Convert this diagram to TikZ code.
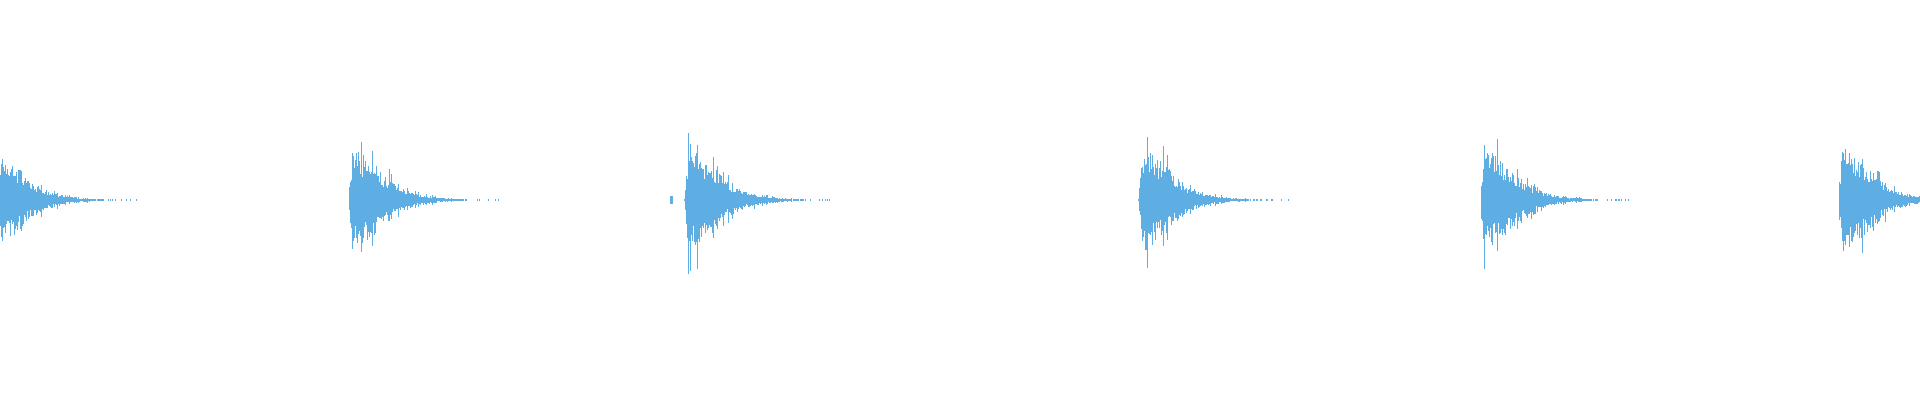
\documentclass[tikz,border=0pt]{standalone}
\tikzset{wave/.style={fill=wavecol}}
\definecolor{wavecol}{HTML}{5FAEE3}
% one decaying burst: start x, seed
\newcommand{\burst}[2]{%
  \pgfmathsetseed{#2}
  \foreach \i in {0,...,150}{
    \pgfmathsetmacro{\env}{(\i<4)*(\i/4)+and(\i>=4,\i<30)*(1-(\i-4)/65)+(\i>=30)*0.6*exp(-(\i-30)/24)}
    \pgfmathsetmacro{\spk}{(rnd>0.9)*0.5}
    \pgfmathsetmacro{\up}{54*\env*(0.5+0.5*rnd+\spk)}
    \pgfmathsetmacro{\dn}{54*\env*(0.5+0.5*rnd+\spk)}
    \pgfmathparse{(\up>0.7 || rnd>0.75) ? 1 : 0}
    \ifnum\pgfmathresult=1
      \fill[wave] (#1+\i,{200-max(0.7,\dn)}) rectangle (#1+\i+1.4,{200+max(0.7,\up)});
    \fi
  }}
\begin{document}
\begin{tikzpicture}[x=1pt,y=1pt]
  \useasboundingbox (0,0) rectangle (1920,400);
  \clip (0,0) rectangle (1920,400);
  \burst{-12}{11}
  \burst{348}{23}
  \burst{684}{37}
  \fill[wave] (670,196) rectangle (673,204);
  \burst{1138}{41}
  \burst{1480}{53}
  \burst{1838}{67}
\end{tikzpicture}
\end{document}
